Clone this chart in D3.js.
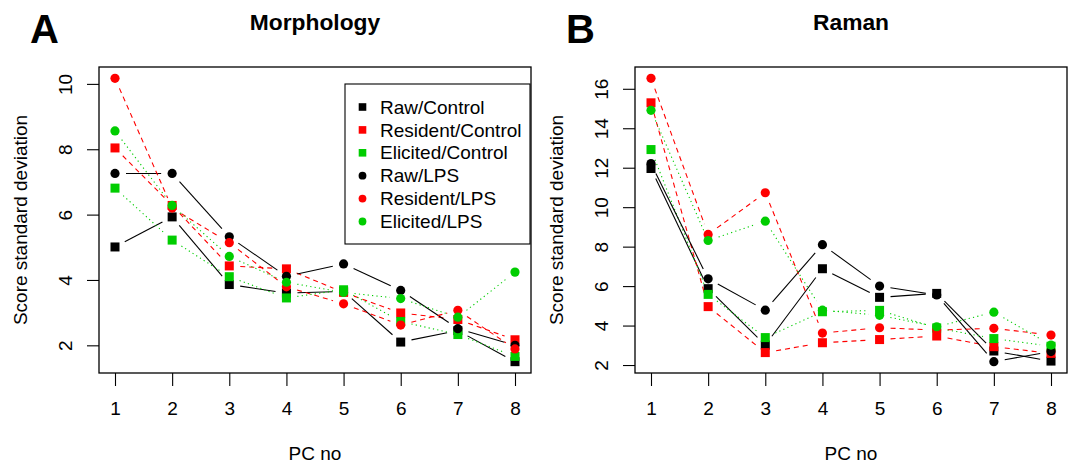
<!DOCTYPE html>
<html><head><meta charset="utf-8">
<script src="https://cdn.jsdelivr.net/npm/d3@7"></script>
<style>
body{margin:0;background:#fff}
svg{display:block}
text{font-family:"Liberation Sans",Arial,Helvetica,sans-serif;fill:#000}
</style>
</head><body><svg id="chart" width="1072" height="464"></svg>
<script>
// ---- data ----
const pcs = [1,2,3,4,5,6,7,8];
const seriesNames = ["Raw/Control","Resident/Control","Elicited/Control","Raw/LPS","Resident/LPS","Elicited/LPS"];
const seriesColors = ["#000000","#FF0000","#00CD00","#000000","#FF0000","#00CD00"];
const seriesShapes = ["square","square","square","circle","circle","circle"];
const seriesDash = ["none","5,4","1.2,3.2","none","5,4","1.2,3.2"];

// Morphology (panel A)
const morphRawControl      = [5.01,5.93,3.86,3.60,3.65,2.10,2.45,1.50];
const morphResidentControl = [8.04,6.28,4.43,4.34,3.62,2.99,2.79,2.17];
const morphElicitedControl = [6.81,5.22,4.10,3.45,3.70,2.73,2.33,1.66];
const morphRawLPS          = [7.26,7.26,5.32,4.11,4.49,3.68,2.51,2.00];
const morphResidentLPS     = [10.17,6.20,5.14,3.79,3.27,2.62,3.07,1.89];
const morphElicitedLPS     = [8.56,6.28,4.72,3.93,3.62,3.43,2.86,4.24];

// Raman (panel B)
const ramanRawControl      = [11.96,5.87,3.01,6.88,5.43,5.63,2.71,2.20];
const ramanResidentControl = [15.29,4.96,2.63,3.13,3.29,3.47,2.93,2.59];
const ramanElicitedControl = [12.92,5.58,3.39,4.70,4.77,3.88,3.34,2.95];
const ramanRawLPS          = [12.21,6.37,4.78,8.10,6.00,5.55,2.17,2.68];
const ramanResidentLPS     = [16.53,8.62,10.73,3.62,3.89,3.77,3.86,3.52];
const ramanElicitedLPS     = [14.91,8.31,9.29,4.78,4.52,3.94,4.68,3.01];

const morphTicks = [2,4,6,8,10];
const ramanTicks = [2,4,6,8,10,12,14,16];

// ---- drawing ----
const svg = d3.select("#chart");
svg.append("rect").attr("width",1072).attr("height",464).attr("fill","#fff");

function drawPanel(cfg){
  const {left, top, width, height} = cfg;
  const g = svg.append("g").attr("transform",`translate(${left},${top})`);
  const all = cfg.series.flat();
  const ext = d3.extent(all);
  const pad = (ext[1]-ext[0])*0.04;
  const x = d3.scaleLinear().domain([1-7*0.04, 8+7*0.04]).range([0,width]);
  const y = d3.scaleLinear().domain([ext[0]-pad, ext[1]+pad]).range([height,0]);

  // series
  const gap = 11;
  cfg.series.forEach((vals, si) => {
    const col = seriesColors[si];
    const sg = g.append("g");
    for (let i=0;i<vals.length-1;i++){
      const x0=x(pcs[i]), y0=y(vals[i]), x1=x(pcs[i+1]), y1=y(vals[i+1]);
      const dx=x1-x0, dy=y1-y0, len=Math.hypot(dx,dy);
      if (len <= 2*gap) continue;
      const ux=dx/len, uy=dy/len;
      sg.append("line")
        .attr("x1",x0+ux*gap).attr("y1",y0+uy*gap)
        .attr("x2",x1-ux*gap).attr("y2",y1-uy*gap)
        .attr("stroke",col).attr("stroke-width",1.1)
        .attr("stroke-dasharray",seriesDash[si]);
    }
    if (seriesShapes[si]==="square"){
      sg.selectAll("rect.pt").data(vals).join("rect").attr("class","pt")
        .attr("x",(d,i)=>x(pcs[i])-4.5).attr("y",d=>y(d)-4.5)
        .attr("width",9).attr("height",9).attr("fill",col);
    } else {
      sg.selectAll("circle.pt").data(vals).join("circle").attr("class","pt")
        .attr("cx",(d,i)=>x(pcs[i])).attr("cy",d=>y(d))
        .attr("r",4.6).attr("fill",col);
    }
  });

  // box
  g.append("rect").attr("x",0).attr("y",0).attr("width",width).attr("height",height)
    .attr("fill","none").attr("stroke","#000").attr("stroke-width",1.3);

  // x axis
  const xa = g.append("g").attr("transform",`translate(0,${height})`)
    .call(d3.axisBottom(x).tickValues(pcs).tickSize(13).tickFormat(d3.format("d")));
  xa.select(".domain").remove();
  xa.selectAll("line").attr("stroke","#000").attr("stroke-width",1.1);
  xa.selectAll("text").attr("y",42).attr("dy",0).attr("font-size",19)
    .attr("fill","#000").attr("font-family","'Liberation Sans',Arial,sans-serif");

  // y axis
  const ya = g.append("g").call(d3.axisLeft(y).tickValues(cfg.ticks).tickSize(12).tickFormat(d3.format("d")));
  ya.select(".domain").remove();
  ya.selectAll("line").attr("stroke","#000").attr("stroke-width",1.1);
  ya.selectAll("text").attr("x",null).attr("dy",null)
    .attr("transform","translate(-27.5,0) rotate(-90)")
    .attr("text-anchor","middle").attr("font-size",19)
    .attr("fill","#000").attr("font-family","'Liberation Sans',Arial,sans-serif");

  // axis titles
  g.append("text").attr("x",width/2).attr("y",height+87)
    .attr("text-anchor","middle").attr("font-size",19).text("PC no");
  g.append("text").attr("transform",`translate(-72,${height/2}) rotate(-90)`)
    .attr("text-anchor","middle").attr("font-size",19).text("Score standard deviation");

  // title and panel letter
  g.append("text").attr("x",width/2).attr("y",-37)
    .attr("text-anchor","middle").attr("font-size",22.8).attr("font-weight","bold").text(cfg.title);
  svg.append("text").attr("x",left-69).attr("y",top-24.5)
    .attr("font-size",40).attr("font-weight","bold").text(cfg.letter);

  if (cfg.legend){
    const lw=185, lh=160, lx=width-lw-1, ly=17;
    const lg = g.append("g").attr("transform",`translate(${lx},${ly})`);
    lg.append("rect").attr("width",lw).attr("height",lh).attr("fill","#fff")
      .attr("stroke","#000").attr("stroke-width",1.1);
    seriesNames.forEach((nm,i)=>{
      const cy = 23 + i*22.9;
      if (seriesShapes[i]==="square"){
        lg.append("rect").attr("x",17.5-3.8).attr("y",cy-3.8).attr("width",7.6).attr("height",7.6).attr("fill",seriesColors[i]);
      } else {
        lg.append("circle").attr("cx",17.5).attr("cy",cy).attr("r",3.9).attr("fill",seriesColors[i]);
      }
      lg.append("text").attr("x",35).attr("y",cy).attr("dy","0.35em").attr("font-size",19).text(nm);
    });
  }
}

drawPanel({left:99, top:67, width:432, height:306, letter:"A", title:"Morphology",
  ticks:morphTicks, legend:true,
  series:[morphRawControl,morphResidentControl,morphElicitedControl,morphRawLPS,morphResidentLPS,morphElicitedLPS]});
drawPanel({left:635, top:67, width:432, height:306, letter:"B", title:"Raman",
  ticks:ramanTicks, legend:false,
  series:[ramanRawControl,ramanResidentControl,ramanElicitedControl,ramanRawLPS,ramanResidentLPS,ramanElicitedLPS]});
</script>
</body></html>
